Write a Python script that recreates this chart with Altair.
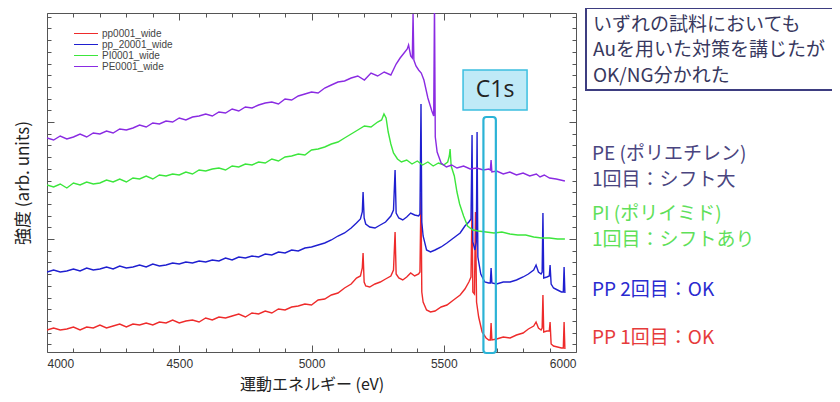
import altair as alt
import pandas as pd

# ---------------- data (intensity in arb. units) ----------------
SERIES = ["pp0001_wide", "pp_20001_wide", "PI0001_wide", "PE0001_wide"]
COLORS = ["#ee2b2b", "#1f1fd0", "#3ce63c", "#8a2be2"]

BASE_EV = [4000, 4025, 4050, 4075, 4100, 4125, 4150, 4175, 4200, 4225, 4250, 4275,
           4300, 4325, 4350, 4375, 4400, 4425, 4450, 4475, 4500, 4525, 4550, 4575,
           4600, 4625, 4650, 4675, 4700, 4725, 4750, 4775, 4800, 4825, 4850, 4875,
           4900, 4925, 4950, 4975, 5000, 5025, 5050, 5075, 5100, 5125, 5150]

RED_BASE = [22, 24, 22, 23, 25, 22, 25, 24, 27, 24, 26, 28, 25, 28, 27, 29, 27, 30, 29, 32,
            29, 31, 32, 30, 34, 32, 35, 34, 36, 38, 35, 39, 38, 41, 39, 43, 42, 45, 46, 48,
            47, 52, 53, 57, 59, 64, 68]
RED_TAIL_EV = [5170, 5185, 5192, 5195, 5199, 5205, 5220, 5240, 5260, 5280, 5300, 5310, 5316,
               5320, 5330, 5345, 5360, 5375, 5390, 5405, 5410, 5414, 5417, 5422, 5435, 5450,
               5467, 5490, 5512, 5537, 5562, 5580, 5595, 5603, 5607, 5610, 5616, 5620, 5624,
               5632, 5645, 5660, 5670, 5676, 5679, 5682, 5700, 5725, 5751, 5775, 5800, 5820,
               5840, 5849, 5858, 5868, 5872, 5875, 5878, 5890, 5899, 5902, 5906, 5915, 5930,
               5945, 5952, 5955, 5958]
RED_TAIL = [74, 76, 84, 99, 70, 66, 65, 68, 70, 73, 76, 82, 120, 78, 74, 72, 75, 79, 76, 78,
            80, 159, 60, 50, 42, 40, 41, 45, 47, 52, 57, 63, 70, 75, 147, 60, 58, 140, 50, 35,
            20, 14, 12, 12, 29, 12, 13, 15, 14, 17, 19, 23, 26, 30, 24, 22, 24, 57, 20, 21,
            21, 30, 8, 6, 5, 4, 4, 30, 3]

BLUE_BASE = [80, 82, 80, 81, 83, 81, 84, 82, 83, 85, 83, 86, 84, 85, 87, 85, 88, 86, 87, 89,
             88, 90, 89, 91, 90, 92, 91, 94, 92, 95, 94, 96, 95, 98, 97, 100, 99, 102, 101, 104,
             105, 107, 109, 112, 116, 119, 124]
BLUE_TAIL_EV = [5170, 5185, 5192, 5195, 5199, 5205, 5220, 5240, 5260, 5280, 5300, 5310, 5316,
                5320, 5330, 5345, 5360, 5375, 5390, 5405, 5410, 5414, 5417, 5422, 5435, 5450,
                5467, 5490, 5512, 5537, 5562, 5580, 5595, 5603, 5607, 5610, 5618, 5623, 5626,
                5629, 5640, 5655, 5670, 5676, 5679, 5682, 5700, 5725, 5751, 5775, 5800, 5820,
                5840, 5849, 5858, 5868, 5872, 5875, 5878, 5890, 5899, 5902, 5906, 5915, 5930,
                5945, 5952, 5955, 5958]
BLUE_TAIL = [129, 133, 140, 160, 134, 128, 125, 124, 127, 130, 136, 142, 182, 139, 134, 132,
             135, 139, 137, 136, 138, 248, 130, 116, 102, 100, 102, 105, 109, 114, 119, 126,
             130, 133, 217, 110, 102, 110, 220, 95, 78, 70, 69, 69, 84, 69, 68, 70, 70, 72,
             75, 78, 82, 87, 80, 78, 80, 139, 74, 75, 76, 87, 68, 64, 62, 60, 60, 85, 59]

GREEN_BASE = [167, 165, 168, 164, 169, 167, 170, 168, 169, 172, 170, 173, 170, 174, 173, 176,
              173, 177, 176, 178, 177, 180, 178, 182, 181, 183, 184, 182, 186, 185, 188, 187,
              190, 189, 193, 191, 195, 196, 198, 197, 202, 203, 205, 208, 210, 214, 218]
GREEN_TAIL_EV = [5175, 5200, 5225, 5250, 5265, 5274, 5282, 5290, 5300, 5310, 5325, 5340, 5360,
                 5380, 5400, 5420, 5440, 5460, 5480, 5500, 5515, 5521, 5524, 5528, 5540, 5550,
                 5560, 5575, 5590, 5610, 5630, 5660, 5690, 5720, 5750, 5780, 5810, 5840, 5870,
                 5900, 5930, 5958]
GREEN_TAIL = [222, 226, 225, 230, 232, 238, 234, 220, 208, 199, 193, 190, 192, 188, 191, 187,
              190, 186, 189, 187, 190, 196, 203, 186, 176, 160, 148, 136, 126, 122, 121, 120,
              119, 120, 118, 117, 117, 115, 114, 114, 113, 113]

PURPLE_BASE = [214, 212, 216, 213, 215, 218, 215, 219, 218, 221, 219, 223, 222, 224, 227, 225,
               229, 228, 231, 230, 234, 232, 235, 236, 238, 236, 240, 239, 243, 241, 245, 244,
               247, 249, 250, 248, 253, 252, 256, 258, 260, 259, 264, 267, 270, 271, 274]
PURPLE_TAIL_EV = [5175, 5200, 5225, 5250, 5275, 5300, 5320, 5335, 5350, 5362, 5367, 5375, 5381,
                  5384, 5387, 5395, 5405, 5415, 5425, 5440, 5455, 5462, 5465, 5468, 5475, 5490,
                  5510, 5530, 5550, 5575, 5600, 5625, 5650, 5670, 5676, 5679, 5682, 5700, 5725,
                  5750, 5775, 5800, 5825, 5850, 5864, 5880, 5900, 5925, 5958]
PURPLE_TAIL = [276, 272, 279, 276, 280, 277, 288, 294, 299, 303, 307, 296, 294, 338, 292, 286,
               282, 279, 272, 254, 241, 236, 350, 215, 200, 189, 185, 187, 184, 186, 183, 184,
               182, 183, 182, 192, 180, 181, 178, 180, 177, 179, 176, 178, 175, 177, 174, 173,
               171]

X_MAJOR = [4000, 4500, 5000, 5500, 6000]
C1S_BAND_EV = [5650, 5697]
C1S_LABEL = "C1s"
BOX_LINES = ["いずれの試料においても", "Auを用いた対策を講じたが", "OK/NG分かれた"]
NOTES = ["PE (ポリエチレン)", "1回目：シフト大", "PI (ポリイミド)", "1回目：シフトあり",
         "PP 2回目：OK", "PP 1回目：OK"]

# ---------------- build table ----------------
parts = []
for name, base, tev, tail in [
    (SERIES[0], RED_BASE, RED_TAIL_EV, RED_TAIL),
    (SERIES[1], BLUE_BASE, BLUE_TAIL_EV, BLUE_TAIL),
    (SERIES[2], GREEN_BASE, GREEN_TAIL_EV, GREEN_TAIL),
    (SERIES[3], PURPLE_BASE, PURPLE_TAIL_EV, PURPLE_TAIL),
]:
    parts.append(pd.DataFrame({"E": BASE_EV + tev, "I": base + tail, "series": name}))
df = pd.concat(parts, ignore_index=True)
df["k"] = range(len(df))

W, H = 529, 339
FRAME = "#555555"
CJK = "Noto Sans CJK JP"

x_scale = alt.Scale(domain=[4000, 6000], nice=False, zero=False)
y_scale = alt.Scale(domain=[0, 339], nice=False, zero=False)

X_MINOR = [v for v in range(4100, 6000, 100) if v % 500 != 0]
Y_MAJOR = [113, 230]
Y_MINOR = [round(113 + 11.7 * k, 1) for k in range(-9, 20) if k % 10 != 0 and 0 < 113 + 11.7 * k < 339]

lines = alt.Chart(df).mark_line(strokeWidth=1.4, clip=True).encode(
    x=alt.X("E:Q", scale=x_scale,
            axis=alt.Axis(title="運動エネルギー (eV)", values=X_MAJOR, format="d", ticks=False,
                          domain=False, grid=False, labelFont="Liberation Sans", labelFontSize=12,
                          labelColor="#333333", labelPadding=6, titleFont=CJK, titleFontSize=16,
                          titleFontWeight="normal", titleColor="#222222", titlePadding=7)),
    y=alt.Y("I:Q", scale=y_scale,
            axis=alt.Axis(title="強度 (arb. units)", labels=False, ticks=False, domain=False,
                          grid=False, titleFont=CJK, titleFontSize=17, titleFontWeight="normal",
                          titleColor="#222222", titlePadding=15)),
    color=alt.Color("series:N", scale=alt.Scale(domain=SERIES, range=COLORS),
                    legend=alt.Legend(title=None, orient="none", legendX=26, legendY=16,
                                      symbolType="stroke", symbolSize=576, symbolStrokeWidth=1.2,
                                      labelFont="Liberation Sans", labelFontSize=10,
                                      labelColor="#444444", rowPadding=0, padding=0,
                                      clipHeight=9, labelOffset=3)),
    order="k:Q",
)


def tick_layer(xo, yo, xv, yv, size):
    return alt.Chart(df).mark_point(opacity=0).encode(
        x=alt.X("E:Q", scale=x_scale, title=None,
                axis=alt.Axis(orient=xo, offset=-H, values=xv, labels=False, domain=False,
                              grid=False, ticks=True, tickSize=size, tickColor=FRAME)),
        y=alt.Y("I:Q", scale=y_scale, title=None,
                axis=alt.Axis(orient=yo, offset=-W, values=yv, labels=False, domain=False,
                              grid=False, ticks=True, tickSize=size, tickColor=FRAME)),
    )


ticks = [
    tick_layer("top", "right", X_MAJOR, Y_MAJOR, 7),
    tick_layer("top", "right", X_MINOR, Y_MINOR, 4),
    tick_layer("bottom", "left", X_MAJOR, Y_MAJOR, 7),
    tick_layer("bottom", "left", X_MINOR, Y_MINOR, 4),
]

# C1s band (data coords)
band = alt.Chart(pd.DataFrame({"x": [C1S_BAND_EV[0]], "x2": [C1S_BAND_EV[1]],
                               "y": [235], "y2": [-1]})).mark_rect(
    fill=None, stroke="#2bb3d6", strokeWidth=2.2, cornerRadius=3, clip=False
).encode(x=alt.X("x:Q", scale=x_scale, axis=None), x2="x2:Q",
         y=alt.Y("y:Q", scale=y_scale, axis=None), y2="y2:Q")

c1s_box = alt.Chart(pd.DataFrame({"x": [5573], "x2": [5815], "y": [282], "y2": [242]})).mark_rect(
    fill="#bfeaf7", stroke="#3cbfe0", strokeWidth=1.5
).encode(x=alt.X("x:Q", scale=x_scale, axis=None), x2="x2:Q",
         y=alt.Y("y:Q", scale=y_scale, axis=None), y2="y2:Q")

c1s_text = alt.Chart(pd.DataFrame({"x": [5694], "y": [262], "t": [C1S_LABEL]})).mark_text(
    font="Open Sans", fontSize=23, color="#222222", baseline="middle", align="center"
).encode(x=alt.X("x:Q", scale=x_scale, axis=None), y=alt.Y("y:Q", scale=y_scale, axis=None),
         text="t:N")

# right-hand annotations (pixel positions relative to plot origin)
note_box = alt.Chart(pd.DataFrame({"a": [0]})).mark_rect(
    fill="white", stroke="#3d3d80", strokeWidth=2
).encode(x=alt.value(539), x2=alt.value(790), y=alt.value(-5), y2=alt.value(77))

texts = []
for line, py in zip(BOX_LINES, [12, 37, 63]):
    texts.append(alt.Chart(pd.DataFrame({"t": [line]})).mark_text(
        font=CJK, fontSize=19, color="#38385e", align="left", baseline="middle"
    ).encode(x=alt.value(546), y=alt.value(py), text="t:N"))

note_colors = ["#4a4580", "#4a4580", "#5fe05a", "#5fe05a", "#2a2ad0", "#e63b3b"]
for line, py, c in zip(NOTES, [141, 167, 201, 227, 277, 325], note_colors):
    texts.append(alt.Chart(pd.DataFrame({"t": [line]})).mark_text(
        font=CJK, fontSize=19, color=c, align="left", baseline="middle"
    ).encode(x=alt.value(545), y=alt.value(py), text="t:N"))

chart = alt.layer(lines, *ticks, band, c1s_box, c1s_text, note_box, *texts).resolve_axis(
    x="independent", y="independent"
).properties(
    width=W, height=H,
    autosize=alt.AutoSizeParams(type="none"),
    padding={"left": 39, "top": 5, "right": 256, "bottom": 42},
    background="white",
).configure_view(stroke=FRAME, strokeWidth=1)

chart.save("out.html", embed_options={"renderer": "svg", "actions": False})
